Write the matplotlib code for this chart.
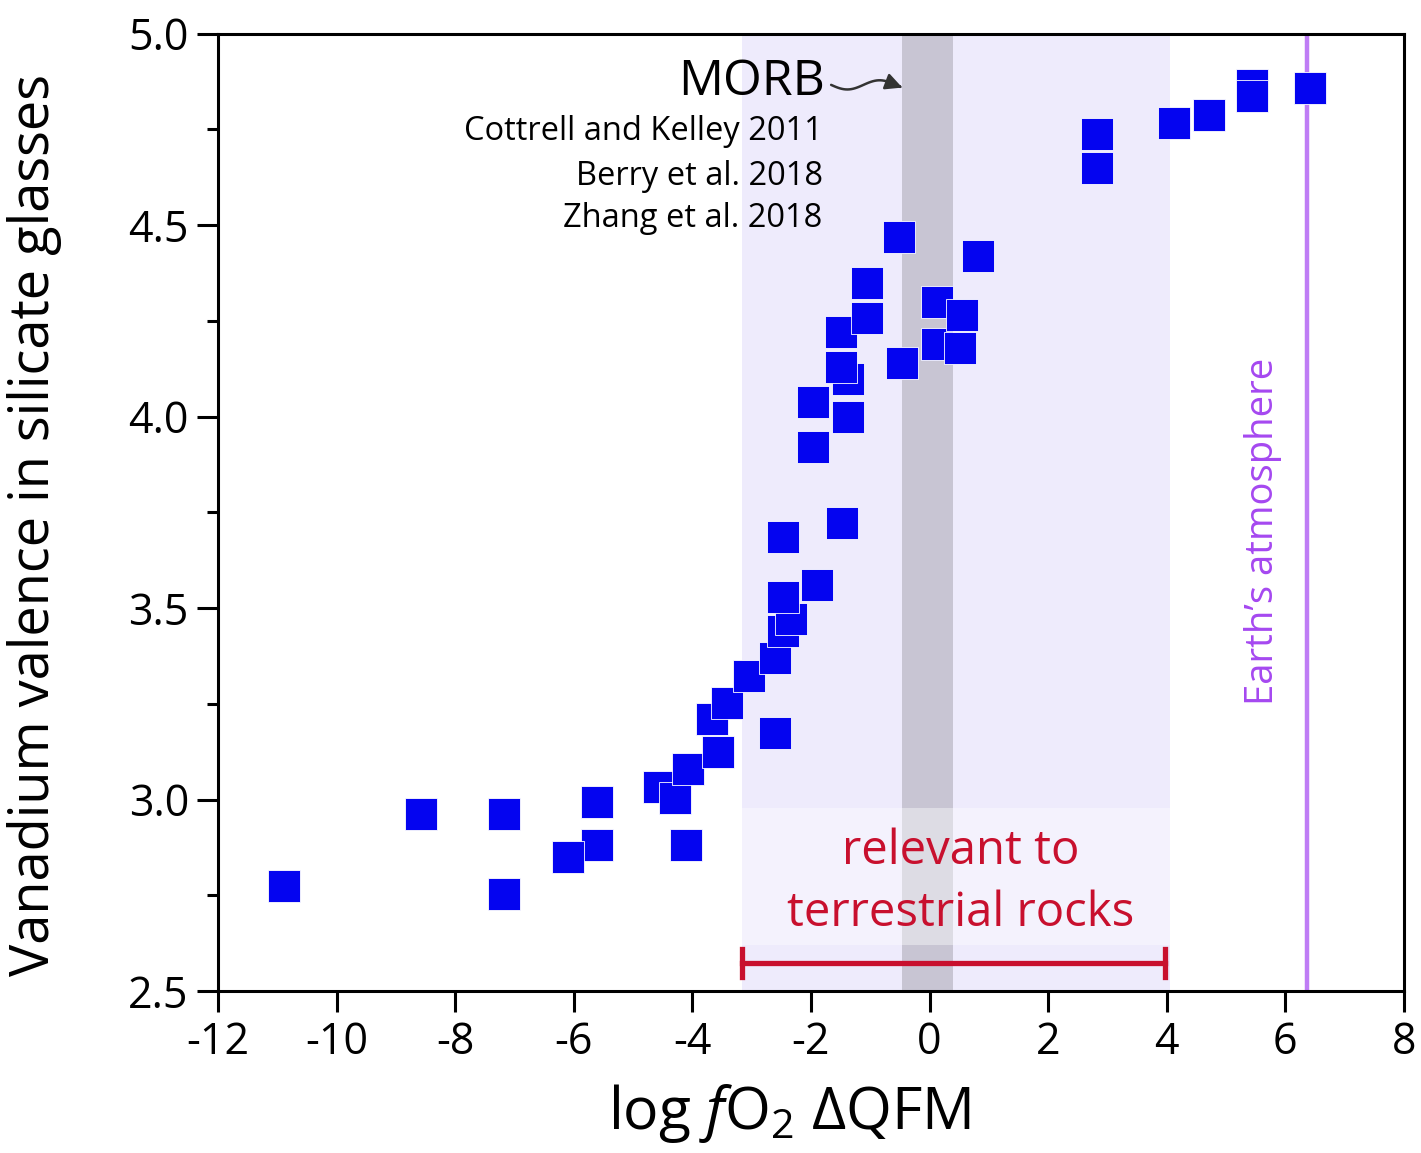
import numpy as np
import matplotlib
matplotlib.use('Agg')
import matplotlib.pyplot as plt
from matplotlib.path import Path
from matplotlib.patches import FancyArrowPatch, Rectangle

plt.rcParams['font.family'] = ['Open Sans', 'DejaVu Sans']
plt.rcParams['mathtext.fontset'] = 'custom'
plt.rcParams['mathtext.rm'] = 'Open Sans'
plt.rcParams['mathtext.it'] = 'Open Sans:italic'
plt.rcParams['axes.unicode_minus'] = False

# V valence vs log fO2 (relative to QFM)
fo2 = [-10.89, -8.57, -7.17, -7.17, -5.60, -5.60, -6.09, -4.57, -4.30, -4.10,
       -4.08, -3.57, -3.67, -3.42, -3.05, -2.60, -2.48, -2.33, -2.48, -2.60,
       -1.89, -2.48, -1.47, -1.97, -1.97, -1.38, -1.38, -1.49, -1.49, -1.05,
       -1.05, -0.52, -0.47, 0.12, 0.12, 0.54, 0.52, 0.81, 2.82, 2.82,
       4.12, 4.72, 5.43, 5.43, 6.42]
valence = [2.774, 2.962, 2.962, 2.754, 2.993, 2.882, 2.851, 3.033, 3.004, 2.882,
           3.080, 3.124, 3.210, 3.252, 3.322, 3.369, 3.441, 3.471, 3.529, 3.174,
           3.560, 3.685, 3.722, 3.920, 4.038, 3.999, 4.098, 4.129, 4.220, 4.257,
           4.349, 4.469, 4.140, 4.299, 4.190, 4.266, 4.180, 4.419, 4.738, 4.649,
           4.766, 4.787, 4.866, 4.837, 4.858]

terrestrial_range = (-3.17, 4.05)
terrestrial_bar = (-3.17, 3.97)
morb_range = (-0.47, 0.40)
atmosphere_fo2 = 6.36
refs = ['Cottrell and Kelley 2011', 'Berry et al. 2018', 'Zhang et al. 2018']

red = '#C8102E'
purple_line = '#BF7DF5'
purple_text = '#A548F0'

fig = plt.figure(figsize=(14.21, 11.53), dpi=100)
ax = fig.add_axes([0.1534, 0.1405, 0.8346, 0.8304])

# shaded ranges
ax.axvspan(*terrestrial_range, color='#EEEBFC', lw=0, zorder=0)
ax.axvspan(*morb_range, color='#C8C5D3', lw=0, zorder=1)
ax.add_patch(Rectangle((terrestrial_range[0], 2.62), terrestrial_range[1] - terrestrial_range[0], 0.358,
                       facecolor='white', alpha=0.4, lw=0, zorder=2))
ax.axvline(atmosphere_fo2, color=purple_line, lw=3.2, zorder=2)

ax.plot(fo2, valence, 's', ms=23, mfc='#0404F0', mec='white', mew=0.6, zorder=5)

# terrestrial range bar
ax.plot(terrestrial_bar, [2.573, 2.573], color=red, lw=3.8, zorder=3)
for xb in terrestrial_bar:
    ax.plot([xb, xb], [2.537, 2.610], color=red, lw=3.8, zorder=3)
ax.text(0.52, 2.866, 'relevant to', color=red, fontsize=34, ha='center', va='center', zorder=4)
ax.text(0.52, 2.702, 'terrestrial rocks', color=red, fontsize=34, ha='center', va='center', zorder=4)

ax.text(5.62, 3.70, 'Earth\u2019s atmosphere', color=purple_text, fontsize=27.5, rotation=90,
        ha='center', va='center', zorder=4)

# MORB label with wavy arrow
ax.text(-1.77, 4.873, 'MORB', fontsize=36, ha='right', va='center', zorder=4)
for yr, ref in zip([4.743, 4.628, 4.516], refs):
    ax.text(-1.80, yr, ref, fontsize=23.5, ha='right', va='center', zorder=4)
t = np.linspace(0, 1, 40)
wave = np.column_stack([-1.66 + 1.20 * t, 4.866 - 0.012 * np.sin(2 * np.pi * 1.1 * t)])
ax.add_patch(FancyArrowPatch(path=Path(wave), arrowstyle='-|>,head_length=10,head_width=5',
                             color='#333333', lw=1.8, zorder=4))

ax.set_xlim(-12, 8)
ax.set_ylim(2.5, 5.0)
ax.set_xticks(np.arange(-12, 9, 2))
ax.set_yticks(np.arange(2.5, 5.01, 0.5))
ax.set_yticks(np.arange(2.5, 5.01, 0.25), minor=True)
ax.set_yticklabels(['%.1f' % v for v in np.arange(2.5, 5.01, 0.5)])
ax.tick_params(which='major', direction='out', length=15, width=2.2, labelsize=31, pad=6)
ax.tick_params(which='minor', direction='out', length=8, width=2.2)
ax.tick_params(axis='x', which='minor', bottom=False)
for s in ax.spines.values():
    s.set_linewidth(2.2)

ax.set_xlabel(r'log $\mathit{f}\mathrm{O}_2$ ' + '\u0394QFM', fontsize=42.5)
ax.xaxis.set_label_coords(0.482, -0.095)
ax.set_ylabel('Vanadium valence in silicate glasses', fontsize=39)
ax.yaxis.set_label_coords(-0.1315, 0.487)

fig.savefig('out.png', dpi=100)
